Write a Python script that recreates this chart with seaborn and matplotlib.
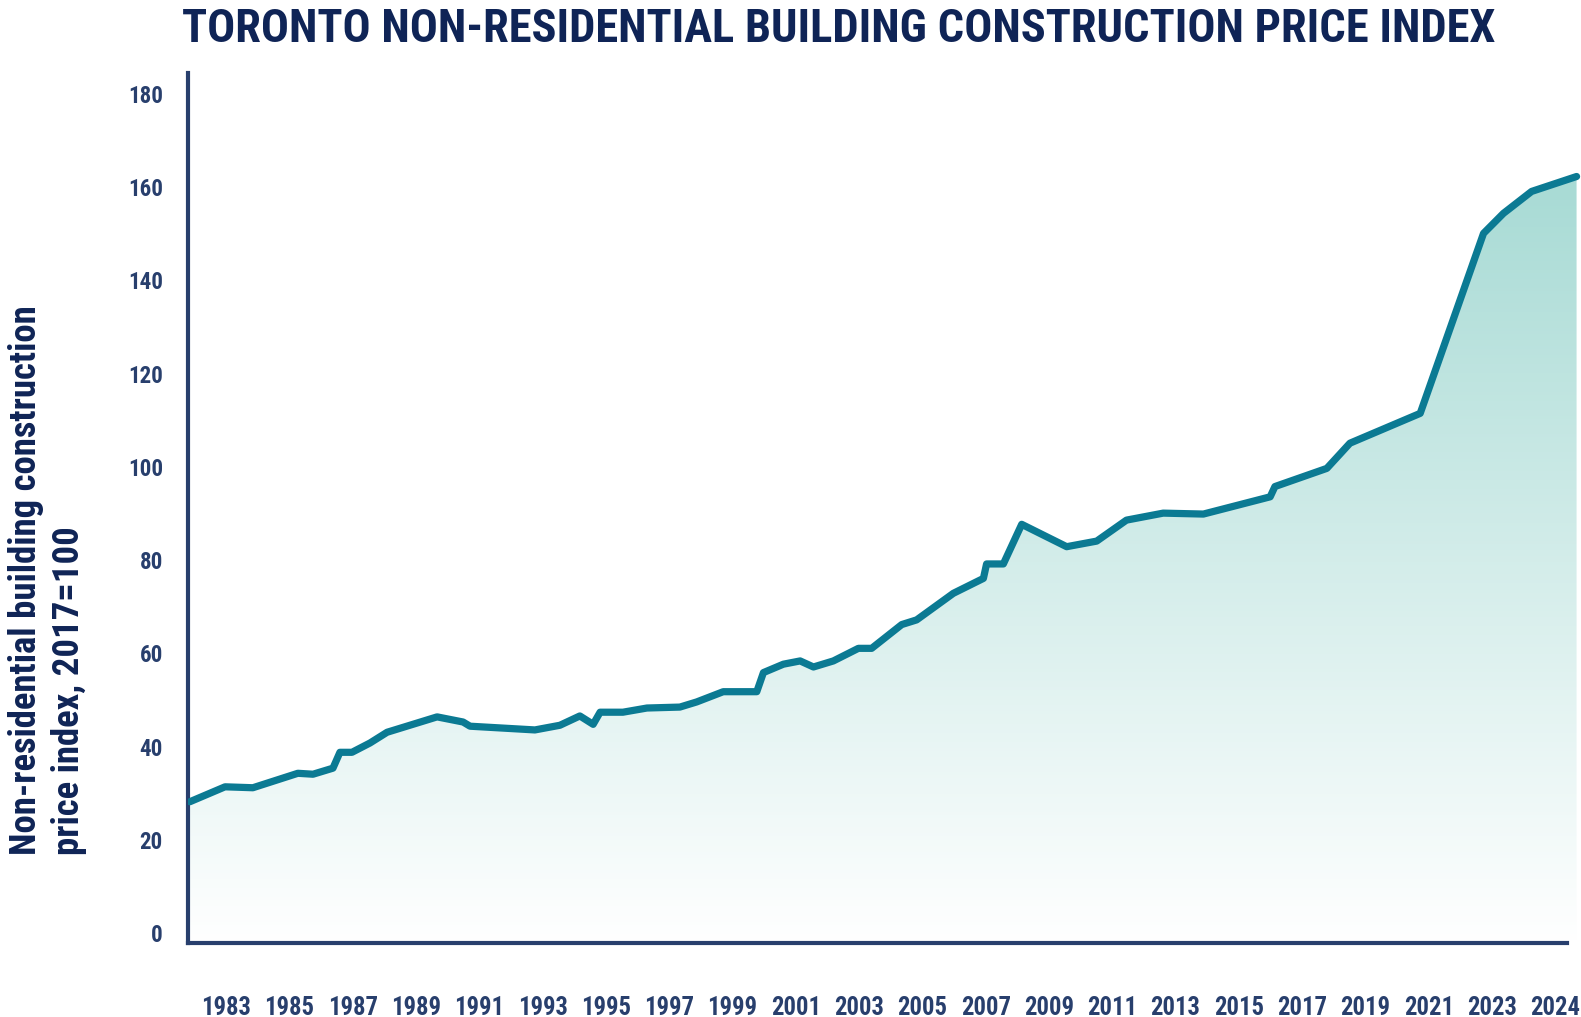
import numpy as np
import pandas as pd
import matplotlib
matplotlib.use('Agg')
import matplotlib.pyplot as plt
import seaborn as sns
from matplotlib import font_manager
from matplotlib.colors import LinearSegmentedColormap

# values (year position, index 2017=100)
years = [1981.86, 1982.97, 1983.85, 1985.27, 1985.75, 1986.38, 1986.60, 1986.98,
         1987.55, 1988.09, 1989.67, 1990.49, 1990.71, 1992.76, 1993.55, 1994.18,
         1994.60, 1994.82, 1995.54, 1996.30, 1997.34, 1997.87, 1998.71, 1999.77,
         1999.98, 2000.61, 2001.14, 2001.56, 2002.19, 2002.98, 2003.40, 2004.35,
         2004.82, 2005.98, 2006.93, 2007.03, 2007.56, 2008.14, 2009.56, 2010.51,
         2011.45, 2012.61, 2013.88, 2015.99, 2016.14, 2017.78, 2018.51, 2020.73,
         2022.73, 2023.36, 2024.25, 2025.67]
index_values = [28.2, 31.4, 31.2, 34.3, 34.1, 35.4, 38.8, 38.8,
                40.8, 43.1, 46.4, 45.3, 44.4, 43.6, 44.6, 46.6,
                44.8, 47.4, 47.4, 48.3, 48.5, 49.6, 51.8, 51.8,
                55.9, 57.7, 58.4, 57.1, 58.4, 61.1, 61.1, 66.2,
                67.2, 72.9, 76.1, 79.2, 79.2, 87.7, 82.9, 84.1,
                88.6, 90.1, 89.9, 93.6, 95.8, 99.7, 105.1, 111.5,
                150.1, 154.4, 159.1, 162.3]

tick_positions = list(range(1983, 2024, 2)) + [2025]
tick_labels = [str(y) for y in range(1983, 2024, 2)] + ['2024']
y_ticks = list(range(0, 181, 20))

title = 'TORONTO NON-RESIDENTIAL BUILDING CONSTRUCTION PRICE INDEX'
ylabel = 'Non-residential building construction\nprice index, 2017=100'

navy = '#283f6d'
title_navy = '#0f2456'
line_teal = '#0b7a93'


def pick_narrow_font():
    # look for a condensed / narrow face, the reference uses one
    narrow = ('condensed', 'semi-condensed', 'extra-condensed', 'ultra-condensed')
    found = {}
    for f in font_manager.fontManager.ttflist:
        st = str(f.stretch).lower()
        nm = f.name
        if st in narrow or any(k in nm for k in ('Condensed', 'Narrow', 'Compressed')):
            bold = f.weight in ('bold', 'semibold', 'demibold', 'heavy', 'black') or \
                (isinstance(f.weight, int) and f.weight >= 600)
            found.setdefault(nm, [False, st])
            found[nm][0] = found[nm][0] or bold
    prefs = ['Roboto Condensed', 'Liberation Sans Narrow', 'Noto Sans Condensed',
             'Open Sans Condensed', 'DejaVu Sans Condensed', 'Noto Sans', 'Roboto', 'Open Sans']
    for p in prefs:
        if p in found and found[p][0]:
            return p
    for nm, (bold, st) in found.items():
        if bold:
            return nm
    return None


sns.set_style('white')
narrow_font = pick_narrow_font()
plt.rcParams['font.family'] = ([narrow_font] if narrow_font else []) + ['DejaVu Sans']
plt.rcParams['font.stretch'] = 'condensed'

df = pd.DataFrame({'year': years, 'index': index_values})

x0, x1 = 1981.80, 2025.81
y0, y1 = -2.1, 184.5

fig = plt.figure(figsize=(15.81, 10.17), dpi=100)
ax = fig.add_axes([188 / 1581, 1 - 943 / 1017, 1 - 188 / 1581, (943 - 73) / 1017])

# gradient area under the line
cmap = LinearSegmentedColormap.from_list('fill', ['#ffffff', '#a6dad4'])
grad = np.linspace(0, 1, 256).reshape(-1, 1)
img = ax.imshow(grad, extent=[x0, x1, y0, 165], origin='lower', aspect='auto',
                cmap=cmap, zorder=1)
poly = ax.fill_between(df['year'], df['index'], y0, color='none', linewidth=0)
img.set_clip_path(poly.get_paths()[0], transform=ax.transData)

sns.lineplot(data=df, x='year', y='index', color=line_teal, linewidth=5.2, ax=ax, zorder=3)

ax.set_xlim(x0, x1)
ax.set_ylim(y0, y1)
ax.set_xlabel('')
ax.set_ylabel('')

for s in ['top', 'right']:
    ax.spines[s].set_visible(False)
for s in ['left', 'bottom']:
    ax.spines[s].set_color(navy)
    ax.spines[s].set_linewidth(3)
ax.spines['bottom'].set_bounds(x0, 2025.37)

ax.set_xticks(tick_positions)
ax.set_xticklabels(tick_labels)
ax.set_yticks(y_ticks)
ax.tick_params(axis='both', length=0, colors=navy)
ax.tick_params(axis='x', pad=38, labelsize=17)
ax.tick_params(axis='y', pad=18, labelsize=19)
for lab in ax.get_xticklabels() + ax.get_yticklabels():
    lab.set_fontweight('bold')

t = fig.text(839 / 1581, 1 - 42 / 1017, title,
             ha='center', va='baseline', fontsize=35, fontweight='bold', color=title_navy)

yl = fig.text(48 / 1581, 1 - 855 / 1017, ylabel,
              rotation=90, ha='center', va='bottom', multialignment='left', linespacing=1.25,
              fontsize=27, fontweight='bold', color=title_navy)

# size texts to the widths seen in the reference (px)
fig.canvas.draw()
w = t.get_window_extent().width
t.set_fontsize(min(37 / 0.73 * 0.72, t.get_fontsize() * 1316 / w))
h = yl.get_window_extent().height
yl.set_fontsize(min(30, yl.get_fontsize() * 550 / h))

xl = ax.get_xticklabels()[0]
fx = xl.get_fontsize() * 50 / xl.get_window_extent().width
yt = ax.get_yticklabels()[-1]
fy = yt.get_fontsize() * 35 / yt.get_window_extent().width
ax.tick_params(axis='x', labelsize=min(19, fx))
ax.tick_params(axis='y', labelsize=min(21, fy))

fig.savefig('out.png', dpi=100)
